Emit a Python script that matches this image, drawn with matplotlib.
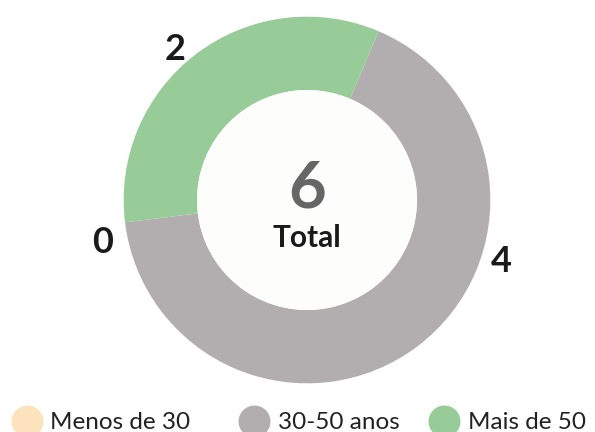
import matplotlib
matplotlib.use("Agg")
import matplotlib.pyplot as plt
from matplotlib.patches import Circle
from matplotlib.lines import Line2D
import numpy as np

categories = ["Menos de 30", "30-50 anos", "Mais de 50"]
values = [0, 4, 2]
colors = ["#FDE2BE", "#B2AEAF", "#97CB98"]
total_label = "Total"

plt.rcParams['font.family'] = ['Lato', 'DejaVu Sans']

W, H = 595, 432
fig = plt.figure(figsize=(W / 100, H / 100), dpi=100)
fig.patch.set_facecolor("white")

# axes: 440px square centred on the donut centre
cx, cy = 307, H - 200
side = 440
ax = fig.add_axes([(cx - side / 2) / W, (cy - side / 2) / H, side / W, side / H])

wedges, _ = ax.pie(values, colors=colors, radius=1.0, startangle=187,
                   counterclock=True,
                   wedgeprops=dict(width=0.4, linewidth=0))
for w in wedges:
    w.set_clip_on(False)
ax.set_xlim(-1.2, 1.2)
ax.set_ylim(-1.2, 1.2)
ax.set_aspect("equal")
ax.axis("off")

ax.add_patch(Circle((0, 0), 0.6, facecolor="#FDFDFB", edgecolor="none", zorder=3))

ax.text(0, 0.06, str(sum(values)), ha="center", va="center", fontsize=47,
        fontweight="bold", color="#666666", zorder=4)
ax.text(0, -0.256, total_label, ha="center", va="baseline", fontsize=21.5,
        fontweight="bold", color="#1a1a1a", zorder=4)

# value labels (angles / radii are layout)
label_angles = [191.8, -17.7, 131.3]
label_radii = [1.14, 1.11, 1.09]
for v, a, r in zip(values, label_angles, label_radii):
    t = np.deg2rad(a)
    ax.text(r * np.cos(t), r * np.sin(t), str(v), ha="center", va="center",
            fontsize=26, fontweight="bold", color="#1a1a1a", clip_on=False)

# legend
marker_x = [27, 254, 444]
text_x = [50, 278, 468]
for c, col, mx, tx in zip(categories, colors, marker_x, text_x):
    fig.add_artist(Line2D([mx / W], [11 / H], marker="o", markersize=23,
                          markerfacecolor=col, markeredgecolor="none",
                          linestyle="none", transform=fig.transFigure))
    fig.text(tx / W, 3 / H, c, ha="left", va="baseline", fontsize=17.5,
             color="#222222")

fig.savefig("out.png", dpi=100, facecolor="white")
